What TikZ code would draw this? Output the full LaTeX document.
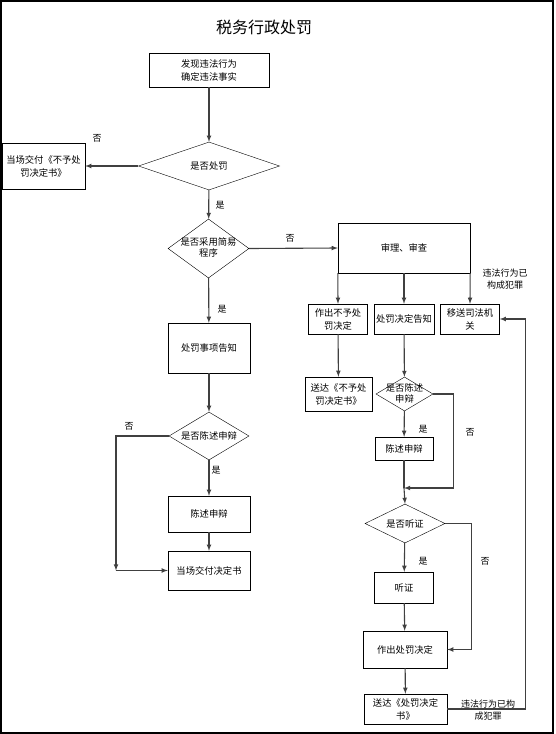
\documentclass[tikz,border=0pt]{standalone}
\usepackage{fontspec}
\setmainfont{Noto Sans CJK SC}
\usetikzlibrary{shapes.geometric}

\begin{document}
\begin{tikzpicture}[>=latex, x=1pt, y=-1pt,
  every node/.style={font=\fontsize{9.3}{13}\selectfont},
  box/.style={draw, inner sep=0pt, align=center},
  dia/.style={draw, diamond, inner sep=0pt},
  flow/.style={->, black!75, line width=1.1pt},
  line/.style={black!75, line width=1.1pt},
  tag/.style={inner sep=0pt, font=\fontsize{9}{12}\selectfont}]
  \useasboundingbox (0,0) rectangle (555,734);
  \draw[line width=1.1pt] (1,1) rectangle (553,733);

  \node(title) at (264,27) {\fontsize{16}{18}\selectfont 税务行政处罚};

  % venstre
  \node(find)[box, minimum width=120, minimum height=34] at (209,70) {发现违法行为\\确定违法事实};
  \node(d1)[dia, minimum width=141, minimum height=48, label=center:{是否处罚}] at (209,166) {};
  \node(nopun)[box, minimum width=83, minimum height=46] at (43.5,166) {当场交付《不予处\\罚决定书》};
  \node(d2)[dia, minimum width=81, minimum height=59, label=center:{\begin{tabular}{@{}c@{}}是否采用简易\\[-2pt]程序\end{tabular}}] at (208.5,248.5) {};
  \node(inform)[box, minimum width=82, minimum height=50] at (209,348) {处罚事项告知};
  \node(d5)[dia, minimum width=80, minimum height=48, label=center:{是否陈述申辩}] at (209,436) {};
  \node(state1)[box, minimum width=82, minimum height=36] at (209,514) {陈述申辩};
  \node(hand)[box, minimum width=82, minimum height=39] at (209,570.5) {当场交付决定书};
  \coordinate(c5) at (116,570.5);

  % højre
  \node(review)[box, minimum width=132, minimum height=50] at (404,248) {审理、审查};
  \node(nodec)[box, minimum width=59, minimum height=30] at (338,319) {作出不予处\\罚决定};
  \node(notice)[box, minimum width=60, minimum height=30] at (404,319) {处罚决定告知};
  \node(transfer)[box, minimum width=59, minimum height=30] at (470,319) {移送司法机\\关};
  \node(deliver1)[box, minimum width=67, minimum height=34] at (338.5,394) {送达《不予处\\罚决定书》};
  \node(d3)[dia, minimum width=57, minimum height=34, label=center:{\begin{tabular}{@{}c@{}}是否陈述\\[-2pt]申辩\end{tabular}}] at (404.5,394) {};
  \node(state2)[box, minimum width=58, minimum height=23] at (404,448.5) {陈述申辩};
  \coordinate(j3) at (404,488);
  \node(d4)[dia, minimum width=80, minimum height=39, label=center:{是否听证}] at (405,523.5) {};
  \node(hear)[box, minimum width=59, minimum height=31] at (404,587.5) {听证};
  \node(decide)[box, minimum width=84, minimum height=37] at (405,649.5) {作出处罚决定};
  \node(deliver2)[box, minimum width=83, minimum height=30] at (405.5,709) {送达《处罚决定\\书》};

  % tekster
  \node(crime1)[align=center, tag] at (505,279) {违法行为已\\构成犯罪};
  \node(crime2)[align=center, tag] at (488,710) {违法行为已构\\成犯罪};
  \node(n1)[tag] at (97,138) {否};
  \node(y1)[tag] at (220,205) {是};
  \node(n2)[tag] at (290,238) {否};
  \node(y2)[tag] at (222,309) {是};
  \node(n5)[tag] at (129,426) {否};
  \node(y5)[tag] at (216,470) {是};
  \node(y3)[tag] at (423,429) {是};
  \node(n3)[tag] at (470,432) {否};
  \node(y4)[tag] at (423,561) {是};
  \node(n4)[tag] at (485,561) {否};

  % pile venstre
  \draw[flow] (find) -- (d1);
  \draw[flow] (d1.west) -- (nopun.east);
  \draw[flow] (d1) -- (d2);
  \draw[flow] (d2.east) -- (review.west);
  \draw[flow] (d2) -- (inform);
  \draw[flow] (inform) -- (d5);
  \draw[flow] (d5) -- (state1);
  \draw[flow] (state1) -- (hand);
  \draw[flow] (d5.west) -| (c5);
  \draw[flow] (c5) -- (hand.west);

  % pile højre
  \draw[flow] (review.south west) -- (nodec.north);
  \draw[flow] (review.south) -- (notice.north);
  \draw[flow] (review.south east) -- (transfer.north);
  \draw[flow] (nodec) -- (deliver1);
  \draw[flow] (notice) -- (d3);
  \draw[flow] (d3) -- (state2);
  \draw[flow] (d3.east) -- ++(20,0) |- (j3);
  \draw[line] (state2) -- (j3);
  \draw[flow] (j3) -- (d4.north);
  \draw[flow] (d4.east) -- ++(26,0) |- (decide.east);
  \draw[flow] (d4) -- (hear);
  \draw[flow] (hear) -- (decide);
  \draw[flow] (decide) -- (deliver2);
  \draw[flow] (deliver2.east) -- ++(78,0) |- (transfer.east);
\end{tikzpicture}
\end{document}
